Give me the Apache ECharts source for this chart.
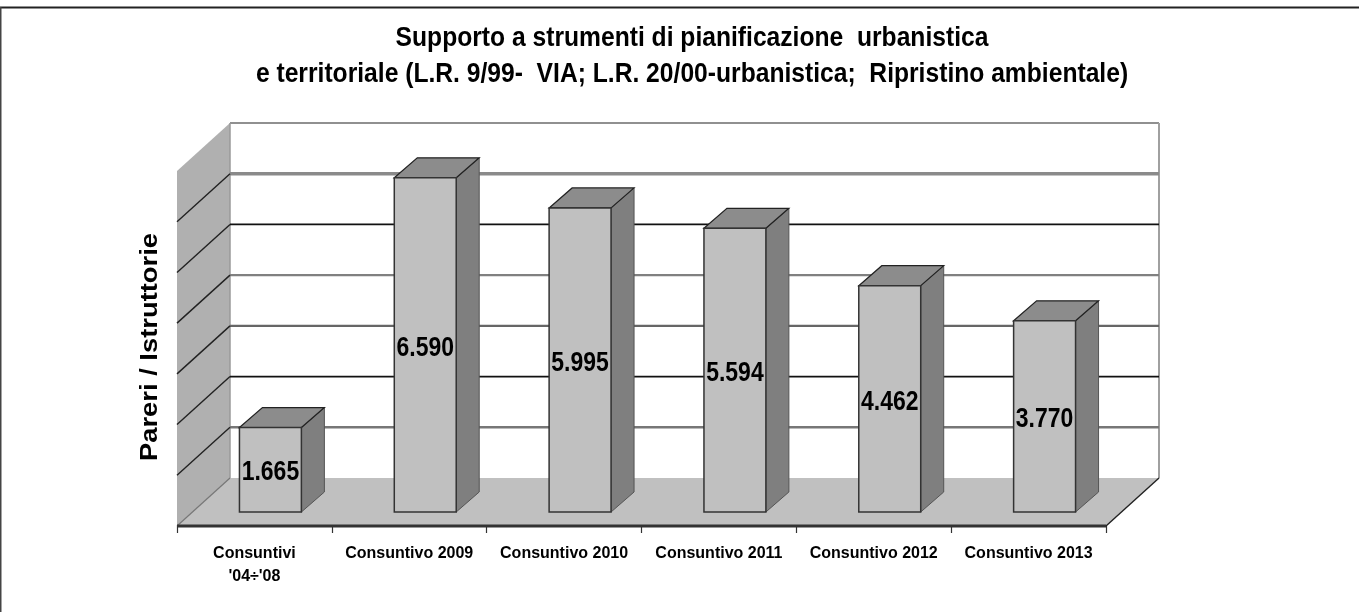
<!DOCTYPE html>
<html><head><meta charset="utf-8">
<style>html,body{margin:0;padding:0;background:#fff}#c{width:1359px;height:612px}</style>
<script src="https://cdn.jsdelivr.net/npm/echarts@6/dist/echarts.min.js"></script></head>
<body><div id="c"></div>
<script>
const categories = ["Consuntivi\n'04÷'08","Consuntivo 2009","Consuntivo 2010","Consuntivo 2011","Consuntivo 2012","Consuntivo 2013"];
const values = [1665,6590,5995,5594,4462,3770];
const valueLabels = ["1.665","6.590","5.995","5.594","4.462","3.770"];
const gridValues = [0,1000,2000,3000,4000,5000,6000,7000];
const titleLines = ["Supporto a strumenti di pianificazione  urbanistica","e territoriale (L.R. 9/99-  VIA; L.R. 20/00-urbanistica;  Ripristino ambientale)"];
const yName = "Pareri / Istruttorie";

const gridStyle = {0:['#9a9a9a',1.5],1000:['#777',2.4],2000:['#111',1.8],3000:['#666',2.2],4000:['#808080',2.4],5000:['#111',1.8],6000:['#8a8a8a',3.6],7000:['#222',1.2]};
const DX=53, DY=-48;           // wall depth
const BDX=23, BDY=-20;         // bar depth
const OX=16, OY=-14;           // bar offset from front plane
const BW=0.4;                  // bar share of band
const SANS='"Liberation Sans",Arial,sans-serif';

const poly=(pts,fill,stroke,lw)=>({type:'polygon',shape:{points:pts},style:{fill:fill,stroke:stroke||'none',lineWidth:lw||0}});
const line=(a,b,c,w)=>({type:'line',shape:{x1:a[0],y1:a[1],x2:b[0],y2:b[1]},style:{stroke:c,lineWidth:w}});

function renderWalls(params,api){
  const cs=params.coordSys;
  const L=cs.x,R=cs.x+cs.width;
  const y0=api.coord([0,0])[1], yT=api.coord([0,7000])[1];
  const ch=[];
  ch.push(poly([[L,yT],[L+DX,yT+DY],[L+DX,y0+DY],[L,y0]],'#b0b0b0'));
  ch.push(poly([[L,y0],[L+DX,y0+DY],[R+DX,y0+DY],[R,y0]],'#c0c0c0'));
  ch.push(line([L+DX,yT+DY],[R+DX,yT+DY],'#222',1.2));
  ch.push(line([L+DX,yT+DY],[L+DX,y0+DY],'#9a9a9a',1.5));
  ch.push(line([R+DX,yT+DY],[R+DX,y0+DY],'#a0a0a0',2));
  gridValues.forEach(v=>{
    if(v===7000) return;
    const y=api.coord([0,v])[1], st=gridStyle[v];
    if(v>0) ch.push(line([L+DX,y+DY],[R+DX,y+DY],st[0],st[1]));
    if(v>0) ch.push(line([L,y],[L+DX,y+DY],'#222',1.4));
  });
  ch.push(line([L,y0],[L+DX,y0+DY],'#777',1.2));
  ch.push(line([R,y0],[R+DX,y0+DY],'#222',1.4));
  ch.push(line([L,y0],[R,y0],'#333',2.8));
  return {type:'group',children:ch};
}

function renderBar(params,api){
  const i=api.value(0), v=api.value(1);
  const c=api.coord([i,v]), b=api.coord([i,0]);
  const w=api.size([1,0])[0]*BW;
  const x1=c[0]-w/2+OX, x2=x1+w;
  const yt=c[1]+OY, yb=b[1]+OY;
  return {type:'group',children:[
    poly([[x2,yt],[x2+BDX,yt+BDY],[x2+BDX,yb+BDY],[x2,yb]],'#7f7f7f','#555',1),
    poly([[x1,yt],[x1+BDX,yt+BDY],[x2+BDX,yt+BDY],[x2,yt]],'#8c8c8c','#222',1.2),
    poly([[x1,yt],[x2,yt],[x2,yb],[x1,yb]],'#c0c0c0','#333',1.5),
    {type:'text',x:(x1+x2)/2,y:(yt+yb)/2+3,scaleX:0.82,style:{text:valueLabels[i],fill:'#000',
      font:'bold 28px '+SANS,align:'center',verticalAlign:'middle'}}
  ]};
}

const titleText=(t,y)=>({type:'text',x:692,y:y,scaleX:0.88,style:{text:t,fill:'#000',font:'bold 28px '+SANS,align:'center',verticalAlign:'middle'}});

const chart=echarts.init(document.getElementById('c'),null,{renderer:'canvas'});
chart.setOption({
  animation:false,
  backgroundColor:'#fff',
  grid:{left:177,top:171,width:929,height:355,containLabel:false},
  xAxis:{type:'category',data:categories,boundaryGap:true,
    axisLine:{show:false},
    axisTick:{show:true,length:7,alignWithLabel:false,lineStyle:{color:'#333',width:1.2}},
    axisLabel:{interval:0,margin:16,color:'#000',lineHeight:23,fontFamily:SANS,fontWeight:'bold',fontSize:16},
    splitLine:{show:false}},
  yAxis:{type:'value',min:0,max:7000,interval:1000,
    axisLabel:{show:false},axisLine:{show:false},axisTick:{show:false},splitLine:{show:false}},
  graphic:[
    {type:'line',shape:{x1:0,y1:7.5,x2:1359,y2:7.5},style:{stroke:'#222',lineWidth:2}},
    {type:'line',shape:{x1:0.5,y1:7,x2:0.5,y2:612},style:{stroke:'#444',lineWidth:2}},
    titleText(titleLines[0],38.5),
    titleText(titleLines[1],74.5),
    {type:'text',x:150,y:347,rotation:Math.PI/2,scaleX:1.14,style:{text:yName,fill:'#000',font:'bold 24px '+SANS,align:'center',verticalAlign:'middle'}}
  ],
  series:[
    {type:'custom',name:'walls',data:[[0,0]],renderItem:renderWalls,silent:true,z:1,clip:false},
    {type:'custom',name:'bars',data:values.map((v,i)=>[i,v]),encode:{x:0,y:1},renderItem:renderBar,z:2,clip:false}
  ]
});
</script></body></html>
